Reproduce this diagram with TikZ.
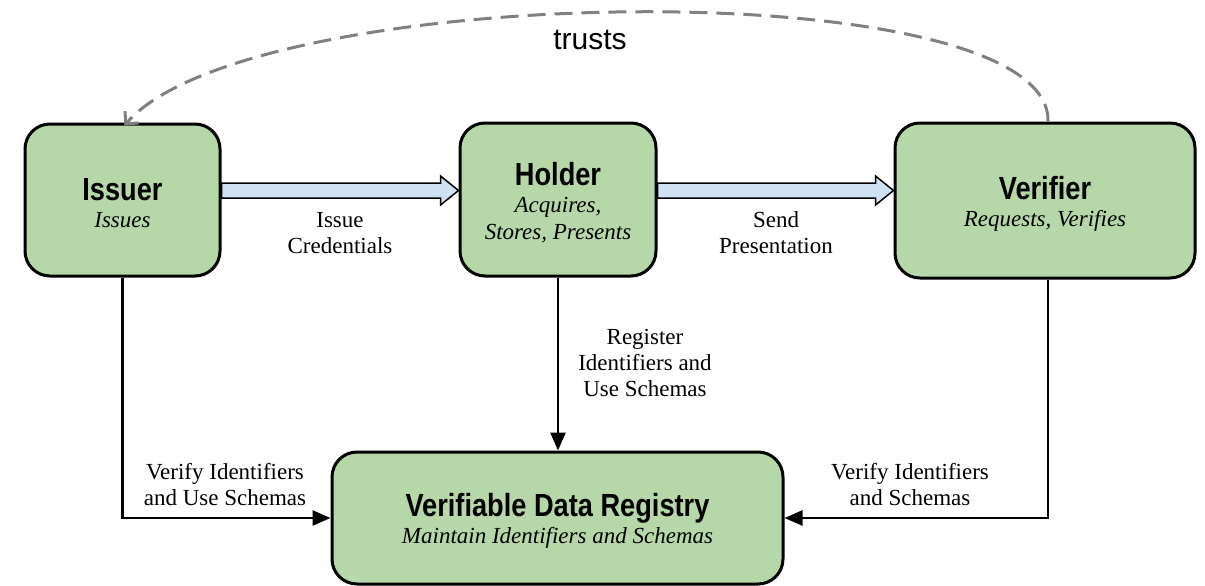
\documentclass[tikz,border=0pt]{standalone}
\usepackage{fontspec}
\setmainfont{Liberation Serif}
\newfontfamily\titlefont[FakeStretch=0.85]{Liberation Sans}
\newfontfamily\labelsans{Liberation Sans}
\usetikzlibrary{arrows.meta,calc}
\definecolor{boxgreen}{HTML}{B6D7A8}
\definecolor{flowblue}{HTML}{CFE2F3}
\definecolor{trustgray}{HTML}{808080}
\tikzset{
  role/.style={draw=black, line width=3pt, fill=boxgreen, rounded corners=25pt,
    align=center, inner sep=0pt, font=\fontsize{23}{27}\selectfont},
  flowlabel/.style={align=center, font=\fontsize{23}{26}\selectfont},
  link/.style={draw=black, line width=2.6pt, -{Triangle[length=18pt,width=15pt]}},
  trustline/.style={draw=trustgray, line width=3pt, dash pattern=on 18pt off 9pt,
    -{Straight Barb[length=9pt,width=18pt,line width=3pt]}},
  flowarrow/.style={draw=black, line width=1.5pt, fill=flowblue, line join=miter}
}
% party name: condensed bold sans, with a strut that lowers the text block a little
\newcommand{\roletitle}[1]{{\titlefont\bfseries\fontsize{32}{27}\selectfont\rule{0pt}{29pt}#1}}
\begin{document}
\begin{tikzpicture}[x=1pt,y=-1pt]
  \useasboundingbox (0,0) rectangle (1205,586);

  % the four parties
  \node[role, minimum width=195pt, minimum height=152pt] (issuer) at (122.5,200)
    {\roletitle{Issuer}\\[0pt]\itshape Issues};
  \node[role, minimum width=196pt, minimum height=153pt] (holder) at (558,199.5)
    {\roletitle{Holder}\\[0pt]\itshape Acquires,\\\itshape Stores, Presents};
  \node[role, minimum width=300pt, minimum height=155pt] (verifier) at (1045,200.5)
    {\roletitle{Verifier}\\[0pt]\itshape Requests, Verifies};
  \node[role, minimum width=451pt, minimum height=132pt] (vdr) at (557.5,518)
    {\roletitle{Verifiable Data Registry}\\[0pt]\itshape Maintain Identifiers and Schemas};

  % hollow flow arrows between the parties
  \foreach \a/\b in {issuer/holder, holder/verifier}{
    \path[flowarrow]
      ($(\a.east |- 0,183)$) -- ($(\b.west |- 0,183)+(-18,0)$)
      -- ($(\b.west |- 0,176)+(-18,0)$) -- ($(\b.west |- 0,190.5)$)
      -- ($(\b.west |- 0,205)+(-18,0)$) -- ($(\b.west |- 0,198)+(-18,0)$)
      -- ($(\a.east |- 0,198)$) -- cycle;
  }
  \node[flowlabel] (issuelbl) at (340,233) {Issue\\Credentials};
  \node[flowlabel] (sendlbl) at (776,233) {Send\\Presentation};

  % links to the registry
  \draw[link] (issuer.south) |- (vdr.west);
  \draw[link] (holder.south) -- (holder.south |- vdr.north);
  \draw[link] ([xshift=3pt]verifier.south) |- (vdr.east);

  \node[flowlabel] (reglbl) at (645,363) {Register\\Identifiers and\\Use Schemas};
  \node[flowlabel] (verilbl) at (225,485) {Verify Identifiers\\and Use Schemas};
  \node[flowlabel] (vervlbl) at (910,485) {Verify Identifiers\\and Schemas};

  % trust relation
  \coordinate (trustfrom) at ([xshift=3pt]verifier.north);
  \coordinate (trustto) at ([xshift=2pt,yshift=-3pt]issuer.north);
  \draw[trustline] (trustfrom) .. controls (1052,-30) and (250,-20) .. (trustto);
  \node[font=\labelsans\fontsize{30}{34}\selectfont] (trustlbl) at (590,40) {trusts};
\end{tikzpicture}
\end{document}
